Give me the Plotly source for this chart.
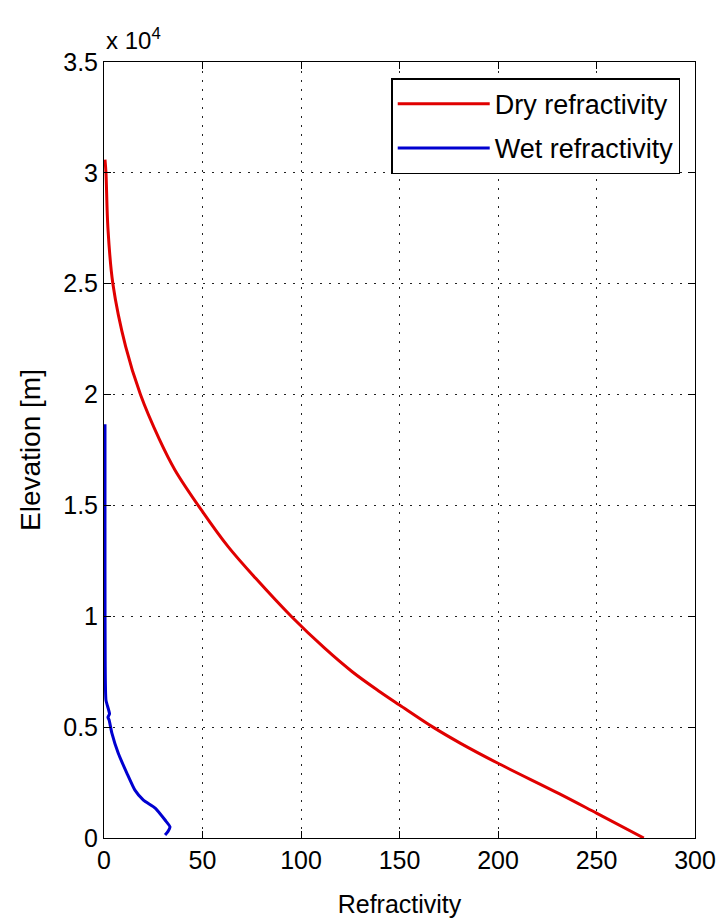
import plotly.graph_objects as go

# Dry refractivity profile (elevation in m, refractivity)
dry_elev = [0, 1120, 2000, 3370, 4270, 5000, 6000, 6600, 7500, 8560, 10000, 11710, 13140, 14720, 16600, 18000, 20000, 22160, 25000, 27500, 30000, 30600]
dry_n = [274, 250, 231, 200, 181, 167, 150, 140, 126, 112, 95, 77, 63, 50, 36, 28, 18.5, 11, 4.5, 2, 1, 0.5]

# Wet refractivity profile
wet_elev = [135, 300, 500, 810, 1350, 1710, 2160, 2930, 3830, 4730, 5320, 5450, 5600, 6220, 8000, 12000, 16000, 18660]
wet_n = [31, 32.5, 33.5, 31, 26, 20, 15.7, 11.6, 7.2, 4, 2.6, 2, 2.8, 1, 0.6, 0.5, 0.5, 0.5]

x_ticks = [0, 50, 100, 150, 200, 250, 300]
y_ticks = [0, 5000, 10000, 15000, 20000, 25000, 30000, 35000]
y_ticklabels = ["0", "0.5", "1", "1.5", "2", "2.5", "3", "3.5"]

font = "Liberation Sans, Arial, sans-serif"

fig = go.Figure()
fig.add_trace(go.Scatter(x=dry_n, y=dry_elev, mode="lines", name="Dry refractivity",
                         legendgroup="dry",
                         line=dict(color="#e00000", width=3, shape="spline", smoothing=1.0)))
fig.add_trace(go.Scatter(x=wet_n, y=wet_elev, mode="lines", name="Wet refractivity",
                         legendgroup="wet",
                         line=dict(color="#0000d0", width=3, shape="spline", smoothing=0.5)))

axis_common = dict(showline=True, linecolor="black", linewidth=1, mirror="ticks",
                   ticks="inside", ticklen=7, tickcolor="black", automargin=False,
                   showgrid=True, gridcolor="#222222", griddash="2px,7px", gridwidth=1.3,
                   zeroline=False, tickfont=dict(family=font, size=25, color="black"))

fig.update_xaxes(range=[0, 300], tickvals=x_ticks,
                 title=dict(text="Refractivity", font=dict(family=font, size=25, color="black"), standoff=22),
                 **axis_common)
fig.update_yaxes(range=[0, 35000], tickvals=y_ticks, ticktext=y_ticklabels,
                 title=dict(text="Elevation [m]", font=dict(family=font, size=28, color="black"), standoff=14),
                 **axis_common)

fig.add_annotation(text="x 10<sup>4</sup>", xref="paper", yref="paper", x=0, y=1,
                   xanchor="left", yanchor="bottom", showarrow=False, yshift=6,
                   font=dict(family=font, size=24, color="black"))

fig.update_layout(
    width=718, height=920,
    margin=dict(l=104, r=23, t=62, b=82, autoexpand=False),
    plot_bgcolor="white", paper_bgcolor="white",
    legend=dict(x=0.975, y=0.979, xanchor="right", yanchor="top",
                bgcolor="white", bordercolor="black", borderwidth=1.5,
                font=dict(family=font, size=27, color="black"),
                itemwidth=92, tracegroupgap=6),
    showlegend=True,
)

html = fig.to_html(full_html=True, include_plotlyjs=True, config={"displayModeBar": False})
html = html.replace("<body>", "<body style=\"margin:0;padding:0;overflow:hidden\">", 1)
with open("out.html", "w", encoding="utf-8") as f:
    f.write(html)
